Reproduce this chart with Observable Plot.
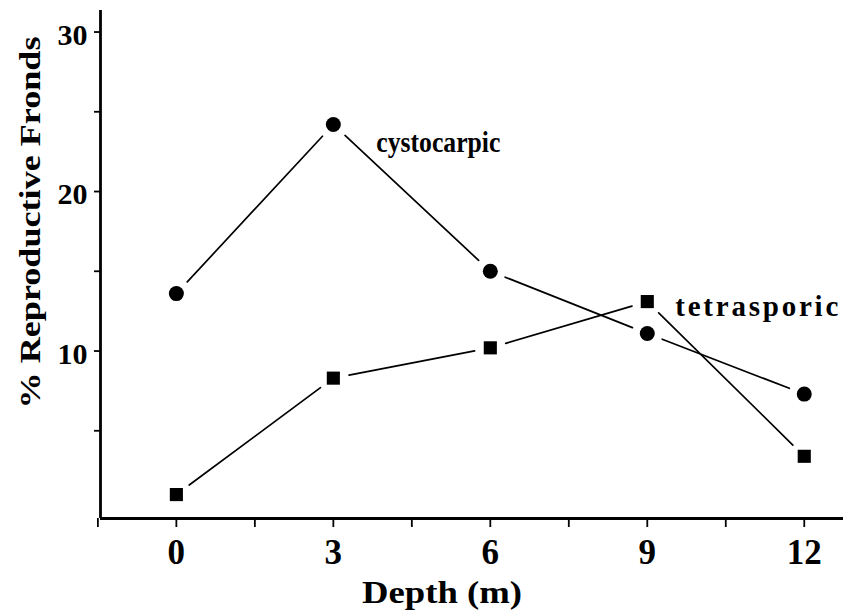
<!DOCTYPE html>
<html>
<head>
<meta charset="utf-8">
<script src="https://cdn.jsdelivr.net/npm/d3@7"></script>
<script src="https://cdn.jsdelivr.net/npm/@observablehq/plot@0.6"></script>
<style>
  html, body { margin: 0; padding: 0; background: #fff; }
  svg { display: block; }
</style>
</head>
<body>
<div id="chart"></div>
<script>
const depths = [0, 3, 6, 9, 12];
const cystocarpic = [13.6, 24.2, 15.0, 11.1, 7.3];
const tetrasporic = [1.0, 8.3, 10.2, 13.1, 3.4];
const seriesNames = ["cystocarpic", "tetrasporic"];
const xTicks = [-1.5, 0, 1.5, 3, 4.5, 6, 7.5, 9, 10.5, 12];
const xLabels = [0, 3, 6, 9, 12];
const yTicks = [5, 10, 15, 20, 25, 30];
const yLabels = [10, 20, 30];
const xTitle = "Depth (m)";
const yTitle = "% Reproductive Fronds";

const cyst = depths.map((d, i) => ({depth: d, pct: cystocarpic[i], series: seriesNames[0]}));
const tetra = depths.map((d, i) => ({depth: d, pct: tetrasporic[i], series: seriesNames[1]}));
const segs = s => s.slice(1).map((p, i) => ({x1: s[i].depth, y1: s[i].pct, x2: p.depth, y2: p.pct}));

const font = "'Liberation Serif', 'DejaVu Serif', serif";

const plot = Plot.plot({
  width: 843,
  height: 613,
  marginLeft: 100,
  marginRight: 0,
  marginTop: 10,
  marginBottom: 95,
  style: {fontFamily: font, background: "#fff", color: "#000"},
  x: {domain: [-1.45, 12.75]},
  y: {domain: [-0.5, 31.35]},
  marks: [
    Plot.ruleX([-1.45], {stroke: "#000", strokeWidth: 2.8}),
    Plot.ruleY([-0.5], {stroke: "#000", strokeWidth: 2.8}),
    Plot.axisY({ticks: yTicks, tickSize: 6, tickPadding: 7, tickFormat: d => yLabels.includes(d) ? String(d) : "",
      fontSize: 30, fontWeight: "bold", label: null, strokeWidth: 1.8}),
    Plot.axisX({ticks: xTicks, tickSize: 9, tickPadding: 12, tickFormat: d => xLabels.includes(d) ? String(d) : "",
      fontSize: 35, fontWeight: "bold", label: null, strokeWidth: 1.8}),
    Plot.arrow(segs(cyst), {x1: "x1", y1: "y1", x2: "x2", y2: "y2", bend: 0, headLength: 0,
      insetStart: 16, insetEnd: 16, stroke: "#000", strokeWidth: 1.7}),
    Plot.arrow(segs(tetra), {x1: "x1", y1: "y1", x2: "x2", y2: "y2", bend: 0, headLength: 0,
      insetStart: 16, insetEnd: 16, stroke: "#000", strokeWidth: 1.7}),
    Plot.dot(cyst, {x: "depth", y: "pct", r: 7.5, fill: "#000", stroke: "none"}),
    Plot.dot(tetra, {x: "depth", y: "pct", symbol: "square", r: 7.4, fill: "#000", stroke: "none"}),
    Plot.text([cyst[1]], {x: "depth", y: "pct", text: "series", dx: 43, dy: 18, textAnchor: "start",
      fontSize: 29, fontWeight: "bold"}),
    Plot.text([tetra[3]], {x: "depth", y: "pct", text: "series", dx: 28, dy: 5, textAnchor: "start",
      fontSize: 29, fontWeight: "bold"}),
    Plot.text([xTitle], {frameAnchor: "bottom", dx: -30, dy: 84, fontSize: 31, fontWeight: "bold"}),
    Plot.text([yTitle], {frameAnchor: "left", textAnchor: "middle", dx: -70, dy: -42, rotate: -90,
      fontSize: 29, fontWeight: "bold"})
  ]
});
document.getElementById("chart").appendChild(plot);

// stretch/condense texts to the widths seen in the reference
const widths = {"cystocarpic": 124, "tetrasporic": 163, "Depth (m)": 160, "% Reproductive Fronds": 372};
d3.select(plot).selectAll("text").each(function () {
  const w = widths[this.textContent];
  if (w) d3.select(this).attr("textLength", w)
    .attr("lengthAdjust", this.textContent === "tetrasporic" ? "spacing" : "spacingAndGlyphs");
});
// y tick labels sit slightly below their ticks in the reference
d3.select(plot).selectAll('g[aria-label="y-axis tick label"]').each(function () {
  const t = this.getAttribute("transform") || "";
  this.setAttribute("transform", (t + " translate(0,3)").trim());
});
</script>
</body>
</html>
